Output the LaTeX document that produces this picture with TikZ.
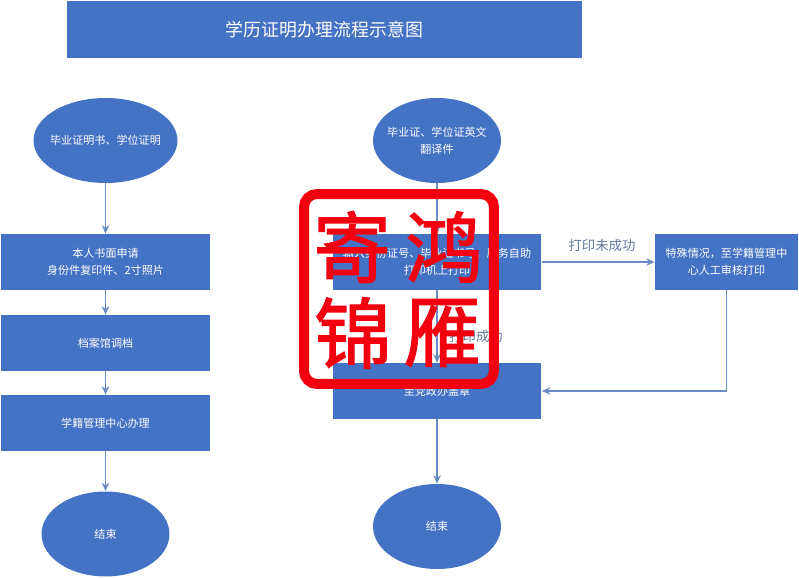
\documentclass[tikz,border=0pt]{standalone}
\usepackage{fontspec}
\usepackage{xcolor}
\usepackage{tikz}
\usetikzlibrary{positioning, arrows.meta, shapes.geometric}
\setmainfont{Noto Sans CJK SC}
\newfontfamily\stampfont[FakeBold=1.6]{Noto Sans CJK SC}
\definecolor{fBlue}{HTML}{4472C4}
\definecolor{fLine}{HTML}{6A8CC4}
\definecolor{fLabel}{HTML}{64799E}
\definecolor{fStamp}{HTML}{F2000F}
\tikzset{
  flowbox/.style={rectangle, fill=fBlue, text=white, minimum width=4.18cm, minimum height=1.12cm, inner sep=0pt, align=center, font=\fontsize{6.3}{9.6}\selectfont},
  flowoval/.style={ellipse, fill=fBlue, text=white, minimum width=2.56cm, minimum height=1.7cm, inner xsep=-0.15cm, inner ysep=0pt, align=center, font=\fontsize{6.3}{9.6}\selectfont},
  flowarrow/.style={-{Stealth[length=0.17cm, width=0.15cm]}, line width=0.7pt, fLine},
  flownote/.style={text=fLabel, font=\fontsize{7.6}{9}\selectfont},
  stampchar/.style={text=fStamp, inner sep=0pt, font=\stampfont\fontsize{44}{44}\selectfont}
}
\begin{document}
\begin{tikzpicture}[x=0.02cm, y=-0.02cm]
  \useasboundingbox (0,0) rectangle (799,578);
  \node[flowbox, minimum width=10.3cm, minimum height=1.14cm, font=\fontsize{10.2}{12}\selectfont] (title) at (324.5,29.5) {学历证明办理流程示意图};
  % left column
  \node[flowoval, minimum width=2.88cm] (paper) at (105.5,140.5) {毕业证明书、学位证明};
  \node[flowbox] (apply) at (105.5,262) {本人书面申请\\身份件复印件、2寸照片};
  \node[flowbox] (archive) at (105.5,343) {档案馆调档};
  \node[flowbox] (office) at (105.5,423) {学籍管理中心办理};
  \node[flowoval] (endleft) at (105.5,534) {结束};
  \draw[flowarrow] (paper) -- (apply);
  \draw[flowarrow] (apply) -- (archive);
  \draw[flowarrow] (archive) -- (office);
  \draw[flowarrow] (office) -- (endleft);
  % right column
  \node[flowoval] (trans) at (437,140.5) {毕业证、学位证英文\\翻译件};
  \node[flowbox] (print) at (437,262) {输入身份证号、毕业证书号，服务自助\\打印机上打印};
  \node[flowbox] (seal) at (437,391) {至党政办盖章};
  \node[flowoval] (endright) at (437,526.5) {结束};
  \node[flowbox, minimum width=2.86cm] (manual) at (726.5,262) {特殊情况，至学籍管理中\\心人工审核打印};
  \draw[flowarrow] (trans) -- (print);
  \draw[flowarrow] (print) -- (seal);
  \draw[flowarrow] (seal) -- (endright);
  \draw[flowarrow] (print) -- (manual);
  \draw[flowarrow] (manual.south) |- (seal.east);
  \node[flownote] (fail) at (602,245) {打印未成功};
  \node[flownote] (done) at (476,336) {打印成功};
  % stamp on top
  \node[rectangle, draw=fStamp, line width=0.2cm, rounded corners=0.26cm, minimum size=3.8cm, inner sep=0pt] (stamp) at (399,289) {};
  \node[stampchar] (ji) at (352,247) {寄};
  \node[stampchar] (hong) at (444,247) {鸿};
  \node[stampchar] (jin) at (353,333) {锦};
  \node[stampchar] (yan) at (442,333) {雁};
\end{tikzpicture}
\end{document}
